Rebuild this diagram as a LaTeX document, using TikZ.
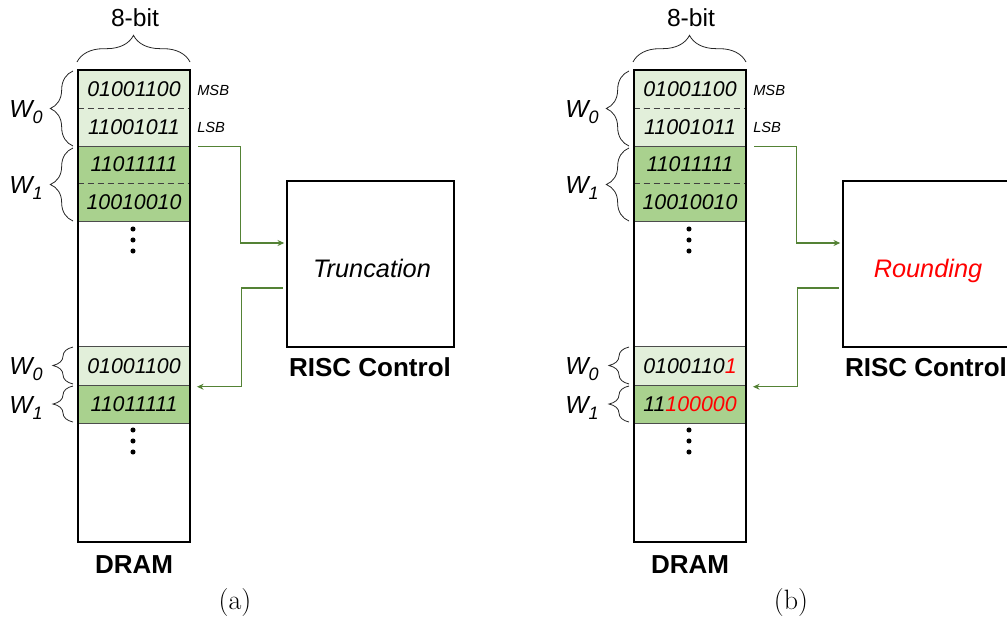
\documentclass[tikz,border=0pt]{standalone}
\usepackage{fontspec}
\newfontfamily\arial{Liberation Sans}
\usetikzlibrary{decorations.pathreplacing,arrows.meta}
\definecolor{lightg}{HTML}{E2EFDA}
\definecolor{darkg}{HTML}{A9D18E}
\definecolor{flowg}{HTML}{548235}
\definecolor{rred}{HTML}{FF0000}
\tikzset{
  row/.style={minimum width=84pt, minimum height=28.5pt, inner sep=0pt,
    font={\arial\itshape\fontsize{16}{19}\selectfont}},
  colbox/.style={draw=black, line width=2.2pt, minimum width=84pt, minimum height=354pt, inner sep=0pt},
  ctrlbox/.style={draw=black, line width=2.2pt, minimum width=125.25pt, minimum height=124.5pt, inner sep=0pt},
  ctrltext/.style={font={\arial\itshape\fontsize{19}{22}\selectfont}, inner sep=0pt, anchor=base},
  sepline/.style={draw=black!70, line width=0.7pt},
  dsepline/.style={draw=black!75, line width=0.8pt, dash pattern=on 4.5pt off 3pt},
  bracestyle/.style={draw=black!85, line width=0.6pt, decorate, decoration={brace, amplitude=#1}},
  flow/.style={draw=flowg, line width=1.1pt, -{Stealth[length=5pt,width=4.5pt]}},
  wlab/.style={font={\arial\itshape\fontsize{18.5}{20}\selectfont}, inner sep=0pt, anchor=base west},
  smalllab/.style={font={\arial\itshape\fontsize{11}{13}\selectfont}, inner sep=0pt, anchor=west},
  boldlab/.style={font={\arial\bfseries\fontsize{19.5}{22}\selectfont}, inner sep=0pt},
  toplab/.style={font={\arial\fontsize{18.5}{21}\selectfont}, inner sep=0pt},
  caplab/.style={font={\fontsize{21}{24}\selectfont}, inner sep=0pt},
  dotstyle/.style={fill=black}
}
\newcommand{\Wlab}[1]{W\raisebox{-5pt}{\fontsize{13.5}{14}\selectfont\itshape #1}}
\newcommand{\panel}[6]{%
\begin{scope}[xshift=#2*0.75pt]
  \node[row, fill=lightg] (ra#1) at (134,89) {01001100};
  \node[row, fill=lightg] (rb#1) at (134,127) {11001011};
  \node[row, fill=darkg] (rc#1) at (134,164.5) {11011111};
  \node[row, fill=darkg] (rd#1) at (134,202) {10010010};
  \node[row, fill=lightg] (re#1) at (134,366) {#4};
  \node[row, fill=darkg] (rf#1) at (134,404) {#5};
  \draw[dsepline] (ra#1.south west) -- (ra#1.south east);
  \draw[sepline] (rb#1.south west) -- (rb#1.south east);
  \draw[dsepline] (rc#1.south west) -- (rc#1.south east);
  \draw[sepline] (rd#1.south west) -- (rd#1.south east);
  \draw[sepline] (re#1.north west) -- (re#1.north east);
  \draw[sepline] (re#1.south west) -- (re#1.south east);
  \draw[sepline] (rf#1.south west) -- (rf#1.south east);
  \node[colbox] (dram#1) at (134,306) {};
  \fill[dotstyle] (133,229) circle (1.9pt) (133,240) circle (1.9pt) (133,251) circle (1.9pt);
  \fill[dotstyle] (133,430) circle (1.9pt) (133,441) circle (1.9pt) (133,452) circle (1.9pt);
  \node[toplab] (bits#1) at (135,18) {8-bit};
  \draw[bracestyle=20pt] (77,62) -- (190,62);
  \draw[bracestyle=17pt] (73,146) -- (73,71);
  \draw[bracestyle=17pt] (73,221) -- (73,148);
  \draw[bracestyle=15pt] (73,384) -- (73,347);
  \draw[bracestyle=15pt] (73,422) -- (73,386);
  \node[wlab] (wa#1) at (9,117) {\Wlab{0}};
  \node[wlab] (wb#1) at (9,193) {\Wlab{1}};
  \node[wlab] (wc#1) at (9,374) {\Wlab{0}};
  \node[wlab] (wd#1) at (9,413) {\Wlab{1}};
  \node[smalllab] (msb#1) at (197,90) {MSB};
  \node[smalllab] (lsb#1) at (197,127) {LSB};
  \node[ctrlbox] (box#1) at (370.5,264) {};
  \node[ctrltext] (meth#1) at (372,277) {#3};
  \node[boldlab] (risc#1) at (370,367) {RISC Control};
  \node[boldlab] (dl#1) at (134,565) {DRAM};
  \node[caplab] (cap#1) at (235,603) {#6};
  \draw[flow, shorten >=1pt] ([xshift=6pt]rb#1.south east) -- ++(31.5pt,0) |- ([yshift=15.75pt]box#1.west);
  \draw[flow, shorten <=2pt] ([yshift=-18pt]box#1.west) -- ++(-33pt,0) |- ([xshift=5pt,yshift=-1.5pt]rf#1.north east);
\end{scope}}
\begin{document}
\begin{tikzpicture}[x=0.75pt,y=-0.75pt]
\useasboundingbox (0,0) rectangle (1007,628);
\clip (0,0) rectangle (1007,628);
\panel{L}{0}{Truncation}{01001100}{11011111}{(a)}
\panel{R}{556}{\textcolor{rred}{Rounding}}{0100110\textcolor{rred}{1}}{11\textcolor{rred}{100000}}{(b)}
\end{tikzpicture}
\end{document}
